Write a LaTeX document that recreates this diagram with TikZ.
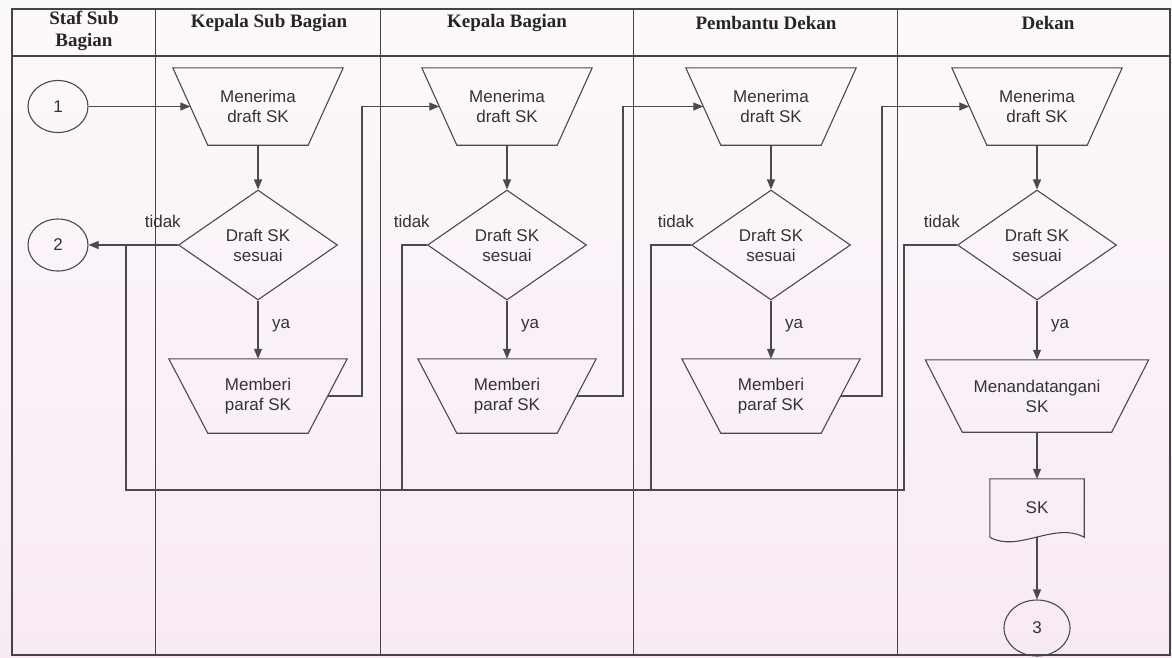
\documentclass[tikz,border=0pt]{standalone}
\usepackage{fontspec}
\setmainfont{Liberation Sans}
\newfontfamily\headfont{Liberation Serif}
\usetikzlibrary{shapes.geometric,arrows.meta,calc}

\definecolor{ink}{HTML}{4A4A4A}
\definecolor{frame}{HTML}{444444}
\definecolor{txt}{HTML}{333333}
\definecolor{papertop}{HTML}{FCF9FB}
\definecolor{paperbot}{HTML}{F8EAF5}

\begin{document}
\begin{tikzpicture}[x=1pt,y=-1pt,
  line/.style={draw=ink, line width=1.1pt},
  arr/.style={line, -{Triangle[length=10pt,width=8pt]}},
  boxtext/.style={draw=none, inner sep=0pt, align=center, text=txt,
    font=\fontsize{17}{20}\selectfont},
  recv/.style={boxtext, minimum width=170pt, minimum height=77pt},
  sign/.style={boxtext, minimum width=178pt, minimum height=74pt},
  signbig/.style={boxtext, minimum width=223pt, minimum height=72pt},
  decide/.style={boxtext, shape=diamond, draw=ink, line width=1.1pt,
    minimum width=159pt, minimum height=110pt, aspect=1.45},
  conn/.style={boxtext, shape=ellipse, draw=ink, line width=1.1pt,
    minimum width=60pt, minimum height=52pt},
  lbl/.style={inner sep=0pt, text=txt, font=\fontsize{17}{20}\selectfont},
  head/.style={inner sep=0pt, align=center, text=black!85,
    font=\headfont\bfseries\fontsize{19}{22}\selectfont},
  lane/.style={draw=frame, line width=1.0pt}
]
\useasboundingbox (0,0) rectangle (1172,657);
\shade[top color=papertop, bottom color=paperbot] (0,0) rectangle (1172,657);

% swimlane frame
\draw[lane, line width=1.4pt] (12,9) rectangle (1170,655);
\draw[lane, line width=1.6pt] (12,56) -- (1170,56);
\foreach \x in {155,380,633,897} \draw[lane] (\x,9) -- (\x,655);

% lane headings
\node[head] (h1) at (84,31) {Staf Sub\\Bagian};
\node[head] (h2) at (269,23) {Kepala Sub Bagian};
\node[head] (h3) at (507,23) {Kepala Bagian};
\node[head] (h4) at (766,23) {Pembantu Dekan};
\node[head] (h5) at (1048,23) {Dekan};

% connectors on page
\node[conn] (c1) at (58,106.5) {1};
\node[conn] (c2) at (58,245) {2};
\node[conn, minimum width=66pt, minimum height=56pt] (c3) at (1037,628) {3};

% receiving steps
\node[recv] (me1) at (258,106.5) {Menerima\\draft SK};
\node[recv] (me2) at (507,106.5) {Menerima\\draft SK};
\node[recv] (me3) at (771,106.5) {Menerima\\draft SK};
\node[recv] (me4) at (1037,106.5) {Menerima\\draft SK};

% checks
\node[decide] (d1) at (258,245) {Draft SK\\sesuai};
\node[decide] (d2) at (507,245) {Draft SK\\sesuai};
\node[decide] (d3) at (771,245) {Draft SK\\sesuai};
\node[decide] (d4) at (1037,245) {Draft SK\\sesuai};

% approval steps
\node[sign] (mb1) at (258,396) {Memberi\\paraf SK};
\node[sign] (mb2) at (507,396) {Memberi\\paraf SK};
\node[sign] (mb3) at (771,396) {Memberi\\paraf SK};
\node[signbig] (ttd) at (1037,396) {Menandatangani\\SK};

% output document
\node[boxtext, minimum width=94pt, minimum height=58pt] (doc) at (1037,508) {SK};

% manual-operation outlines (wide side on top)
\foreach \n/\d in {me1/35,me2/35,me3/35,me4/35,mb1/39,mb2/39,mb3/39,ttd/37}
  \draw[line] (\n.north west) -- (\n.north east)
    -- ($(\n.south east)+(-\d,0)$) -- ($(\n.south west)+(\d,0)$) -- cycle;

% document outline with wavy base
\draw[line] (doc.south west) -- (doc.north west) -- (doc.north east) -- (doc.south east)
  .. controls ($(doc.south east)+(-30,-16)$) and ($(doc.south west)+(28,16)$) .. (doc.south west);

% entry and exit points on the slanted sides
\coordinate (me1-in) at ($(me1.west)+(17.5,0)$);
\coordinate (me2-in) at ($(me2.west)+(17.5,0)$);
\coordinate (me3-in) at ($(me3.west)+(17.5,0)$);
\coordinate (me4-in) at ($(me4.west)+(17.5,0)$);
\coordinate (mb1-out) at ($(mb1.east)+(-19.5,0)$);
\coordinate (mb2-out) at ($(mb2.east)+(-19.5,0)$);
\coordinate (mb3-out) at ($(mb3.east)+(-19.5,0)$);

% hand-over lines between lanes
\coordinate (f1) at (362,0);
\coordinate (f2) at (623,0);
\coordinate (f3) at (882,0);
\draw[arr] (c1) -- (me1-in);
\draw[arr] (mb1-out) -- (f1 |- mb1) -- (f1 |- me2) -- (me2-in);
\draw[arr] (mb2-out) -- (f2 |- mb2) -- (f2 |- me3) -- (me3-in);
\draw[arr] (mb3-out) -- (f3 |- mb3) -- (f3 |- me4) -- (me4-in);

% flow inside each lane
\foreach \i in {1,2,3,4} \draw[arr] (me\i) -- (d\i);
\draw[arr] (d1) -- (mb1);
\draw[arr] (d2) -- (mb2);
\draw[arr] (d3) -- (mb3);
\draw[arr] (d4) -- (ttd);
\draw[arr] (ttd) -- (doc);
\draw[arr] (doc.south) -- (c3);

% rejected drafts go back to connector 2
\coordinate (r1) at (126,490);
\coordinate (r2) at (402,490);
\coordinate (r3) at (651,490);
\coordinate (r4) at (904,490);
\draw[arr] (d1.west) -- (c2);
\draw[line] (d2.west) -| (r2);
\draw[line] (d3.west) -| (r3);
\draw[line] (d4.west) -| (r4) -- (r1) -- (r1 |- d1.west);

% branch labels
\foreach \i in {1,2,3,4}
  \node[lbl, anchor=south east] (t\i) at ($(d\i.west)+(3,-17)$) {tidak};
\node[lbl, anchor=west] (y1) at ($(d1.south)!0.5!(mb1.north)+(14,-4)$) {ya};
\node[lbl, anchor=west] (y2) at ($(d2.south)!0.5!(mb2.north)+(14,-4)$) {ya};
\node[lbl, anchor=west] (y3) at ($(d3.south)!0.5!(mb3.north)+(14,-4)$) {ya};
\node[lbl, anchor=west] (y4) at ($(d4.south)!0.5!(ttd.north)+(14,-4)$) {ya};
\end{tikzpicture}
\end{document}
